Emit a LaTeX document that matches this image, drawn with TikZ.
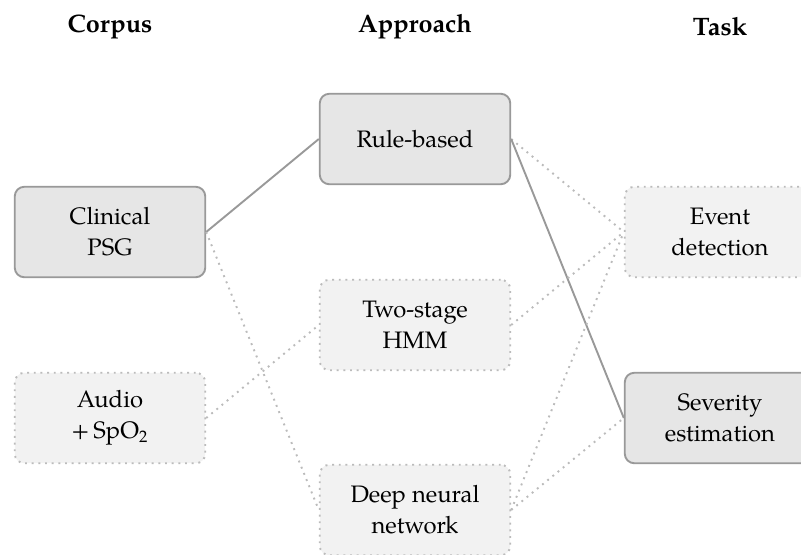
\documentclass[tikz,border=0pt]{standalone}
\usepackage{fontspec}
\setmainfont{TeX Gyre Pagella}
\definecolor{boxdark}{HTML}{E6E6E6}
\definecolor{boxlight}{HTML}{F2F2F2}
\definecolor{edgegray}{HTML}{999999}
\definecolor{dotgray}{HTML}{BBBBBB}
\begin{document}
\begin{tikzpicture}[x=0.42pt,y=-0.42pt,
  heading/.style={font=\fontsize{10.6}{12}\selectfont\bfseries},
  used/.style={draw=edgegray,fill=boxdark,line width=0.8pt,rounded corners=4pt,
    minimum width=80pt,minimum height=38pt,align=center,font=\fontsize{10}{13}\selectfont},
  unused/.style={draw=dotgray,fill=boxlight,line width=0.8pt,dotted,rounded corners=4pt,
    minimum width=80pt,minimum height=38pt,align=center,font=\fontsize{10}{13}\selectfont},
  usedline/.style={draw=edgegray,line width=0.8pt},
  unusedline/.style={draw=dotgray,line width=0.8pt,dotted}]
\useasboundingbox (0,0) rectangle (801,554);

\node[heading] (corpus) at (110,27) {Corpus};
\node[heading] (approach) at (415,27) {Approach};
\node[heading] (task) at (720,27) {Task};

% corpus
\node[used] (psg) at (110,232) {Clinical\\PSG};
\node[unused] (audio) at (110,418) {Audio\\+\,SpO\textsubscript{2}};

% approach
\node[used] (rule) at (415,139) {Rule-based};
\node[unused] (hmm) at (415,325) {Two-stage\\HMM};
\node[unused] (dnn) at (415,510) {Deep neural\\network};

% task
\node[unused] (event) at (720,232) {Event\\detection};
\node[used] (severity) at (720,418) {Severity\\estimation};

\draw[usedline] (psg.east) -- (rule.west);
\draw[unusedline] (psg.east) -- (dnn.west);
\draw[unusedline] (audio.east) -- (hmm.west);
\draw[unusedline] (rule.east) -- (event.west);
\draw[usedline] (rule.east) -- (severity.west);
\draw[unusedline] (hmm.east) -- (event.west);
\draw[unusedline] (dnn.east) -- (event.west);
\draw[unusedline] (dnn.east) -- (severity.west);
\end{tikzpicture}
\end{document}
